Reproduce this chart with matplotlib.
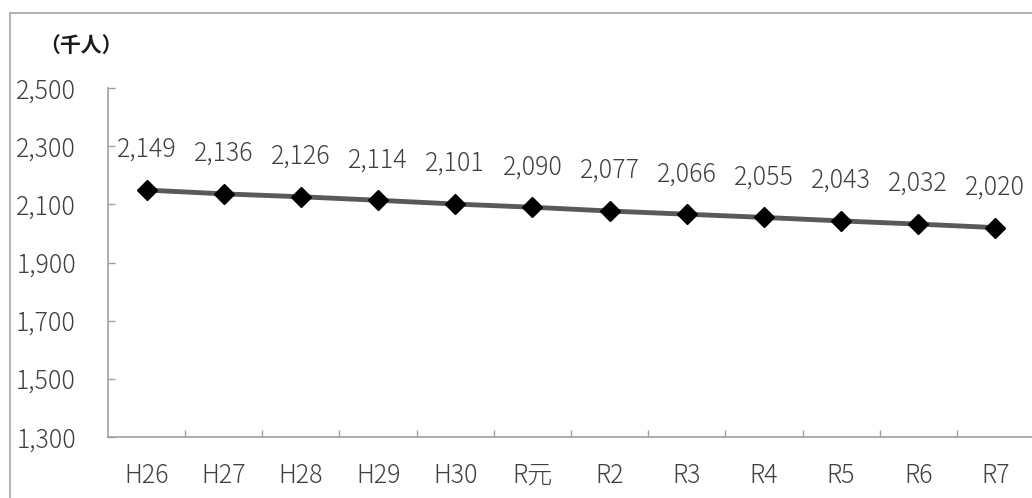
import matplotlib
matplotlib.use("Agg")
import matplotlib.pyplot as plt
from matplotlib.patches import Rectangle
from matplotlib.ticker import FuncFormatter, FixedLocator

plt.rcParams['font.family'] = ['Noto Sans CJK JP', 'DejaVu Sans']

categories = ["H26", "H27", "H28", "H29", "H30", "R元", "R2", "R3", "R4", "R5", "R6", "R7"]
values = [2149, 2136, 2126, 2114, 2101, 2090, 2077, 2066, 2055, 2043, 2032, 2020]
y_ticks = [1300, 1500, 1700, 1900, 2100, 2300, 2500]
unit_label = "（千人）"

W, H = 1032, 498
fig = plt.figure(figsize=(W / 100, H / 100), dpi=100)

# outer chart border (clipped at right/bottom like the reference)
fig.patches.append(Rectangle((10 / W, -0.1), 1.2, 1 - 13 / H + 0.1, transform=fig.transFigure,
                             fill=False, edgecolor="#a6a6a6", linewidth=1.2))

ax = fig.add_axes([108 / W, 1 - 437 / H, 926 / W, (437 - 88) / H])
x = list(range(len(categories)))
ax.plot(x, values, color="#595959", linewidth=3.5, marker="D", markersize=10,
        markerfacecolor="black", markeredgecolor="black", zorder=3, clip_on=False)

for xi, v in zip(x, values):
    ax.annotate(f"{v:,}", (xi, v), xytext=(0, 29), textcoords="offset points",
                ha="center", va="center", fontsize=18, fontweight="light", color="#404040")

ax.set_xlim(-0.5, len(categories) - 0.5)
ax.set_ylim(y_ticks[0], y_ticks[-1])
ax.set_yticks(y_ticks)
ax.yaxis.set_major_formatter(FuncFormatter(lambda v, p: f"{int(v):,}"))
ax.set_xticks(x)
ax.set_xticklabels(categories)
ax.xaxis.set_minor_locator(FixedLocator([i + 0.5 for i in range(len(categories) - 1)]))

ax.tick_params(axis="y", direction="in", length=5, width=1, color="#a0a0a0",
               pad=23, labelsize=18, labelcolor="#404040")
ax.tick_params(axis="x", which="major", length=0, pad=18, labelsize=18, labelcolor="#404040")
ax.tick_params(axis="x", which="minor", direction="in", length=5, width=1, color="#a0a0a0")
for lbl in ax.get_xticklabels() + ax.get_yticklabels():
    lbl.set_fontweight("light")

for s in ["top", "right"]:
    ax.spines[s].set_visible(False)
for s in ["left", "bottom"]:
    ax.spines[s].set_color("#a0a0a0")
    ax.spines[s].set_linewidth(1.2)

fig.text(39 / W, 1 - 45 / H, unit_label, ha="left", va="center", fontsize=15,
         fontweight="bold", color="#1a1a1a")

fig.savefig("out.png", dpi=100)
